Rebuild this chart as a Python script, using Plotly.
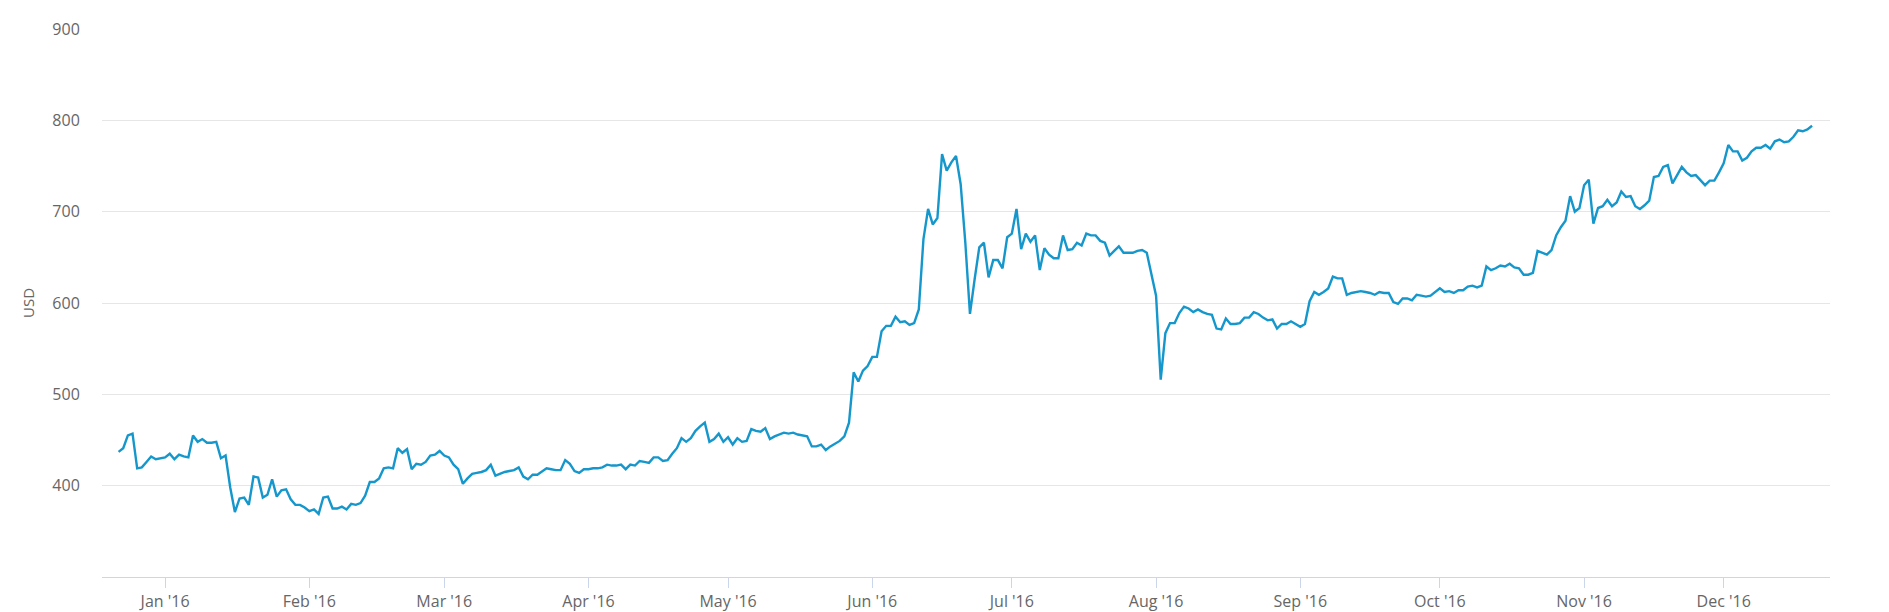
import pandas as pd
import plotly.graph_objects as go

start_date = "2015-12-22"
prices = [
    437, 441, 455, 457, 419, 420, 426, 432, 429, 430,
    431, 435, 429, 434, 432, 431, 455, 448, 451, 447,
    447, 448, 430, 433, 398, 371, 386, 387, 379, 410,
    409, 387, 390, 407, 388, 395, 396, 385, 379, 379,
    376, 372, 374, 369, 387, 388, 375, 375, 377, 374,
    380, 379, 381, 389, 404, 404, 408, 419, 420, 419,
    441, 436, 440, 418, 424, 423, 426, 433, 434, 438,
    433, 431, 423, 418, 402, 408, 413, 414, 415, 417,
    423, 411, 413, 415, 416, 417, 420, 410, 407, 412,
    412, 416, 419, 418, 417, 417, 428, 424, 416, 414,
    418, 418, 419, 419, 420, 423, 422, 422, 423, 418,
    423, 422, 427, 426, 425, 431, 431, 427, 428, 435,
    441, 452, 448, 452, 460, 465, 469, 448, 451, 457,
    448, 453, 445, 452, 448, 449, 462, 460, 459, 463,
    451, 454, 456, 458, 457, 458, 456, 455, 454, 443,
    443, 445, 439, 443, 446, 449, 454, 469, 524, 514,
    526, 531, 541, 541, 569, 575, 575, 585, 579, 580,
    576, 578, 593, 670, 703, 686, 693, 763, 745, 754,
    761, 730, 666, 588, 626, 661, 666, 628, 647, 647,
    638, 672, 676, 703, 659, 676, 667, 674, 636, 660,
    653, 649, 649, 674, 658, 659, 666, 663, 676, 674,
    674, 668, 666, 652, 657, 662, 655, 655, 655, 657,
    658, 655, 630, 608, 516, 567, 578, 578, 589, 596,
    594, 590, 593, 590, 588, 587, 572, 571, 583, 577,
    577, 578, 584, 584, 590, 588, 584, 581, 582, 572,
    577, 577, 580, 577, 574, 577, 602, 612, 609, 612,
    616, 629, 627, 627, 609, 611, 612, 613, 612, 611,
    609, 612, 611, 611, 601, 599, 605, 605, 603, 609,
    608, 607, 608, 612, 616, 612, 613, 611, 614, 614,
    618, 619, 617, 619, 640, 636, 638, 641, 640, 643,
    639, 638, 631, 631, 633, 657, 655, 653, 658, 674,
    683, 690, 717, 700, 704, 729, 735, 687, 704, 706,
    713, 706, 710, 722, 716, 717, 706, 703, 707, 712,
    738, 739, 749, 751, 731, 740, 749, 743, 739, 740,
    734, 729, 734, 734, 743, 753, 773, 766, 766, 756,
    759, 766, 770, 770, 773, 769, 777, 779, 776, 777,
    782, 789, 788, 790, 794,
]
y_ticks = [400, 500, 600, 700, 800, 900]
month_ticks = pd.date_range("2016-01-01", "2016-12-01", freq="MS")
month_labels = ["Jan '16", "Feb '16", "Mar '16", "Apr '16", "May '16", "Jun '16",
                "Jul '16", "Aug '16", "Sep '16", "Oct '16", "Nov '16", "Dec '16"]

dates = pd.date_range(start_date, periods=len(prices), freq="D")

fig = go.Figure()
fig.add_trace(go.Scatter(
    x=dates, y=prices, mode="lines",
    line=dict(color="#1597cc", width=2.4),
    showlegend=False,
))

font_fam = "Open Sans, Lato, sans-serif"
fig.update_layout(
    width=1889, height=612,
    margin=dict(l=102, r=59, t=29, b=35),
    paper_bgcolor="white", plot_bgcolor="white",
    font=dict(family=font_fam, color="#666666", size=16),
    xaxis=dict(
        range=["2015-12-18 10:30", "2016-12-23 20:30"],
        tickvals=month_ticks, ticktext=month_labels,
        showgrid=False, zeroline=False, automargin=False,
        showline=True, linecolor="#ccd6eb", linewidth=1,
        ticks="outside", ticklen=10, tickcolor="#ccd6eb", tickwidth=1,
        tickfont=dict(size=16, color="#666666"),
    ),
    yaxis=dict(
        range=[300, 900], automargin=False,
        tickvals=y_ticks,
        showgrid=True, gridcolor="#e6e6e6", gridwidth=1,
        zeroline=False, showline=False,
        ticks="outside", ticklen=18, tickcolor="rgba(0,0,0,0)",
        tickfont=dict(size=16, color="#666666"),
        title=dict(text="USD", font=dict(size=15, color="#666666"), standoff=14),
    ),
)

fig.write_html("out.html")
